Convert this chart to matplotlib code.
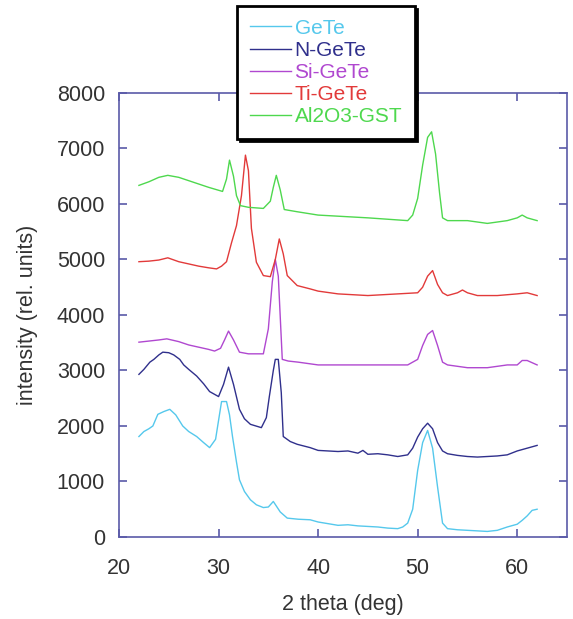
import matplotlib
matplotlib.use("Agg")
import matplotlib.pyplot as plt
import numpy as np

plt.rcParams['font.family'] = ['Liberation Sans', 'DejaVu Sans']

# Data: (2 theta in deg, intensity in rel. units)
gete = [(22, 1810), (22.5, 1900), (23, 1950), (23.4, 2000), (23.9, 2210), (24.5, 2260),
        (25.1, 2300), (25.7, 2200), (26.4, 2000), (27, 1900), (27.8, 1810), (28.5, 1700),
        (29.1, 1610), (29.7, 1760), (30.0, 2100), (30.3, 2440), (30.8, 2440), (31.1, 2200),
        (31.4, 1810), (31.8, 1350), (32.1, 1030), (32.6, 820), (33.2, 670), (33.8, 580),
        (34.5, 530), (35.0, 540), (35.5, 640), (36.2, 450), (36.9, 340), (38, 320), (39.2, 310),
        (40, 270), (41, 240), (42, 210), (43, 220), (44, 200), (45, 190), (46, 180), (47, 160),
        (48, 150), (48.5, 180), (49, 250), (49.5, 500), (50, 1200), (50.5, 1700), (51, 1920),
        (51.5, 1600), (52, 900), (52.5, 250), (53, 150), (54, 130), (55, 120), (56, 110),
        (57, 100), (58, 120), (59, 180), (60, 230), (60.5, 300), (61, 380), (61.5, 480), (62, 500)]

ngete = [(22, 2930), (22.5, 3020), (23.1, 3150), (23.5, 3200), (24, 3280), (24.4, 3330),
         (25, 3320), (25.5, 3280), (26.1, 3200), (26.5, 3100), (27, 3020), (27.8, 2900),
         (28.5, 2760), (29.1, 2620), (30.0, 2530), (30.5, 2750), (31.0, 3060), (31.5, 2750),
         (32.1, 2300), (32.6, 2130), (33.2, 2030), (34.3, 1970), (34.8, 2150), (35.1, 2530),
         (35.5, 3000), (35.7, 3200), (36.0, 3200), (36.3, 2600), (36.5, 1810), (37.2, 1720),
         (37.9, 1670), (39.2, 1610), (40, 1560), (41, 1550), (42, 1540), (43, 1550), (44, 1510),
         (44.5, 1560), (45, 1490), (46, 1500), (47, 1480), (48, 1450), (49, 1480), (49.5, 1600),
         (50, 1800), (50.5, 1950), (51, 2050), (51.5, 1950), (52, 1700), (52.5, 1550), (53, 1500),
         (54, 1470), (55, 1450), (56, 1440), (57, 1450), (58, 1460), (59, 1480), (60, 1550),
         (61, 1600), (62, 1650)]

sigete = [(22, 3510), (23, 3530), (24, 3550), (24.8, 3570), (26, 3520), (27, 3460), (28, 3420),
          (29, 3380), (29.6, 3350), (30.2, 3400), (30.6, 3550), (31.0, 3710), (31.5, 3550),
          (32.1, 3330), (33, 3300), (34.5, 3300), (35.0, 3750), (35.4, 4600), (35.7, 5000),
          (36.0, 4700), (36.4, 3200), (37, 3170), (38, 3150), (40, 3100), (42, 3100), (45, 3100),
          (48, 3100), (49, 3100), (50, 3200), (50.5, 3450), (51, 3650), (51.5, 3720), (52, 3450),
          (52.5, 3150), (53, 3100), (55, 3050), (57, 3050), (59, 3100), (60, 3100), (60.5, 3180),
          (61, 3180), (62, 3100)]

tigete = [(22, 4960), (23, 4970), (24, 4990), (24.9, 5030), (26, 4960), (27, 4920), (28, 4880),
          (29, 4850), (29.8, 4830), (30.3, 4880), (30.8, 4960), (31.3, 5300), (31.8, 5610),
          (32.3, 6150), (32.7, 6880), (33.0, 6600), (33.3, 5560), (33.8, 4950), (34.5, 4710),
          (35.2, 4690), (35.7, 5000), (36.1, 5370), (36.5, 5100), (36.9, 4710), (37.9, 4530),
          (39.2, 4470), (40, 4430), (42, 4380), (45, 4350), (48, 4380), (50, 4400), (50.5, 4500),
          (51, 4700), (51.5, 4800), (52, 4550), (52.5, 4400), (53, 4350), (54, 4400), (54.5, 4450),
          (55, 4400), (56, 4350), (58, 4350), (60, 4380), (61, 4400), (62, 4350)]

al2o3_gst = [(22, 6335), (23, 6400), (24, 6480), (24.9, 6516), (26, 6480), (27, 6420),
             (28, 6360), (29, 6300), (30.4, 6226), (30.8, 6450), (31.1, 6790), (31.5, 6500),
             (31.8, 6150), (32.2, 5970), (33, 5940), (34.5, 5920), (35.2, 6050), (35.5, 6300),
             (35.8, 6516), (36.2, 6250), (36.6, 5900), (37.9, 5860), (40, 5800), (45, 5750),
             (49, 5700), (49.5, 5800), (50, 6100), (50.5, 6700), (51, 7200), (51.4, 7300),
             (51.8, 6900), (52.2, 6200), (52.5, 5750), (53, 5700), (55, 5700), (57, 5650),
             (59, 5700), (60, 5750), (60.5, 5800), (61, 5750), (62, 5700)]

labels = ['GeTe', 'N-GeTe', 'Si-GeTe', 'Ti-GeTe', 'Al2O3-GST']
colors = ['#55c8ec', '#30308c', '#b048d0', '#e23a3a', '#4ed84e']
series = [gete, ngete, sigete, tigete, al2o3_gst]

spine_color = '#5a5aa8'
text_color = '#333333'

fig = plt.figure(figsize=(5.73, 6.19), dpi=100)
ax = fig.add_axes([0.2077, 0.1325, 0.7818, 0.7173])

for pts, lab, c in zip(series, labels, colors):
    x, y = zip(*pts)
    ax.plot(x, y, color=c, lw=1.0, label=lab)

ax.set_xlim(20, 65)
ax.set_ylim(0, 8000)
ax.set_xticks(np.arange(20, 61, 10))
ax.set_yticks(np.arange(0, 8001, 1000))

for sp in ax.spines.values():
    sp.set_color(spine_color)
    sp.set_linewidth(1.2)
ax.tick_params(direction='in', top=True, right=True, length=6, width=1.2,
               color=spine_color, labelcolor=text_color, labelsize=15.5)
ax.tick_params(axis='x', pad=15)
ax.tick_params(axis='y', pad=10)

ax.set_xlabel('2 theta (deg)', fontsize=15.5, color=text_color)
ax.xaxis.set_label_coords(0.5, -0.128)
ax.set_ylabel('intensity (rel. units)', fontsize=15.5, color=text_color)
ax.yaxis.set_label_coords(-0.18, 0.5)

leg = ax.legend(loc='upper left', bbox_to_anchor=(0.414, 0.99), bbox_transform=fig.transFigure,
                fontsize=15, frameon=True, fancybox=False, handlelength=2.0,
                handletextpad=0.15, borderpad=0.6, labelspacing=0.15, borderaxespad=0,
                shadow={'color': 'black', 'alpha': 1.0})
leg.get_frame().set_edgecolor('black')
leg.get_frame().set_linewidth(2.0)
for txt, c in zip(leg.get_texts(), colors):
    txt.set_color(c)

fig.savefig('out.png', dpi=100)
